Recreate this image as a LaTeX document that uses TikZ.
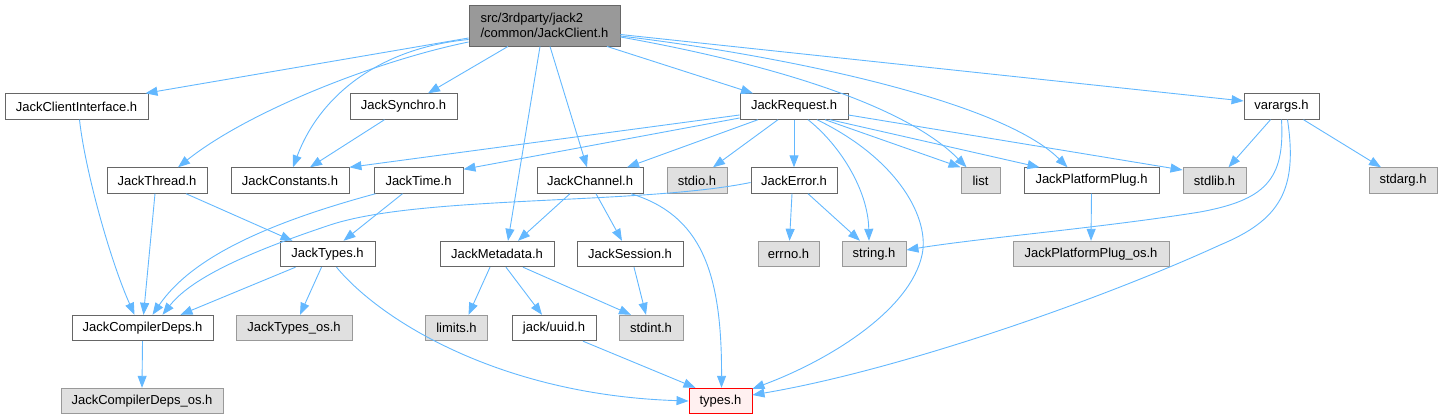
\documentclass[tikz,border=0pt]{standalone}
\usepackage{fontspec}
\setmainfont{Liberation Sans}
\usetikzlibrary{arrows.meta}
\definecolor{edgec}{HTML}{63B8FF}
\definecolor{bdark}{HTML}{666666}
\definecolor{bgray}{HTML}{999999}
\definecolor{fgray}{HTML}{E0E0E0}
\definecolor{fmain}{HTML}{999999}
\definecolor{bred}{HTML}{FF0000}
\definecolor{fred}{HTML}{FFF0F0}
\tikzset{
  box/.style={draw=bdark, fill=white, line width=0.9pt, inner sep=0pt,
    minimum height=25.5pt, font=\fontsize{13}{15}\selectfont, text=black},
  gbox/.style={box, draw=bgray, fill=fgray},
  rbox/.style={box, draw=bred, fill=fred},
  mainbox/.style={box, fill=fmain, minimum height=41pt, align=left},
  ed/.style={draw=edgec, line width=0.9pt, -{Triangle[length=12pt,width=9pt]}},
}
\begin{document}
\begin{tikzpicture}[x=1pt,y=-1pt]
\useasboundingbox (0,0) rectangle (1443,420);
% nodes
\node[mainbox, minimum width=151pt] (main) at (544.5,25.5) {src/3rdparty/jack2\\/common/JackClient.h};
\node[box, minimum width=143pt] (JCI) at (76.5,106.5) {JackClientInterface.h};
\node[box, minimum width=107pt] (JS) at (403.5,106.5) {JackSynchro.h};
\node[box, minimum width=108pt] (JR) at (794,106.5) {JackRequest.h};
\node[box, minimum width=75pt] (va) at (1281.5,106.5) {varargs.h};
\node[box, minimum width=100pt] (JT) at (157,180.5) {JackThread.h};
\node[box, minimum width=118pt] (JCo) at (290,180.5) {JackConstants.h};
\node[box, minimum width=89pt] (JTi) at (418.5,180.5) {JackTime.h};
\node[box, minimum width=106pt] (JCh) at (590,180.5) {JackChannel.h};
\node[gbox, minimum width=60pt] (stdio) at (697,180.5) {stdio.h};
\node[box, minimum width=86pt] (JE) at (794,180.5) {JackError.h};
\node[gbox, minimum width=39pt] (list) at (980.5,180.5) {list};
\node[box, minimum width=135pt] (JPP) at (1091.5,180.5) {JackPlatformPlug.h};
\node[gbox, minimum width=63pt] (stdlib) at (1214.5,180.5) {stdlib.h};
\node[gbox, minimum width=68pt] (stdarg) at (1403,180.5) {stdarg.h};
\node[box, minimum width=95pt] (JTy) at (327.5,254) {JackTypes.h};
\node[box, minimum width=114pt] (JM) at (497,254) {JackMetadata.h};
\node[box, minimum width=106pt] (JSe) at (630,254) {JackSession.h};
\node[gbox, minimum width=61pt] (errno) at (788.5,254) {errno.h};
\node[gbox, minimum width=64pt] (string) at (874,254) {string.h};
\node[gbox, minimum width=156pt] (JPPos) at (1091,254) {JackPlatformPlug\_os.h};
\node[box, minimum width=141pt] (JCD) at (142.5,328) {JackCompilerDeps.h};
\node[gbox, minimum width=116pt] (JTyos) at (294,328) {JackTypes\_os.h};
\node[gbox, minimum width=62pt] (limits) at (456.5,328) {limits.h};
\node[box, minimum width=84pt] (uuid) at (554,328) {jack/uuid.h};
\node[gbox, minimum width=64pt] (stdint) at (651,328) {stdint.h};
\node[gbox, minimum width=162pt] (JCDos) at (142,401) {JackCompilerDeps\_os.h};
\node[rbox, minimum width=63pt] (types) at (720.5,401) {types.h};
% edges from main
\draw[ed] ([yshift=-12.5pt]main.west) -- ([xshift=-3pt]JCI.north east);
\draw[ed] ([yshift=-16.5pt]main.west) .. controls (380,60) and (250,110) .. ([xshift=21pt]JT.north);
\draw[ed] ([yshift=-14pt]main.west) .. controls (380,48) and (320,95) .. ([xshift=3pt]JCo.north);
\draw[ed] ([xshift=-36.5pt]main.south) -- ([xshift=24.5pt]JS.north);
\draw[ed] ([xshift=-4.5pt]main.south) -- ([xshift=11pt]JM.north);
\draw[ed] ([xshift=5.5pt]main.south) -- ([xshift=-3pt]JCh.north);
\draw[ed] ([xshift=62.5pt]main.south) -- ([xshift=-41pt]JR.north);
\draw[ed] ([yshift=-11.5pt]main.east) .. controls (750,60) and (900,100) .. ([xshift=6pt]list.north west);
\draw[ed] ([yshift=-10.5pt]main.east) .. controls (780,55) and (1000,100) .. ([xshift=-24pt]JPP.north);
\draw[ed] ([yshift=-9pt]main.east) -- ([yshift=5.5pt]va.west);
% JackClientInterface
\draw[ed] ([xshift=3pt]JCI.south) .. controls (85,170) and (110,260) .. ([xshift=-8pt]JCD.north);
% JackSynchro
\draw[ed] ([xshift=-19pt]JS.south) -- ([xshift=20pt]JCo.north);
% JackThread
\draw[ed] ([xshift=-2pt]JT.south) -- ([xshift=1pt]JCD.north);
\draw[ed] ([xshift=29pt]JT.south) -- ([xshift=-35pt]JTy.north);
% JackTime
\draw[ed] ([xshift=2pt]JTi.south west) .. controls (260,225) and (190,260) .. ([xshift=10pt]JCD.north);
\draw[ed] ([xshift=-16pt]JTi.south) -- ([xshift=16pt]JTy.north);
% JackTypes
\draw[ed] ([xshift=-32pt]JTy.south) -- ([xshift=38pt]JCD.north);
\draw[ed] ([xshift=-6pt]JTy.south) -- ([xshift=6pt]JTyos.north);
\draw[ed] ([xshift=9pt]JTy.south) .. controls (380,320) and (500,395) .. (types.west);
% JackRequest
\draw[ed] ([yshift=-8.5pt]JR.west) -- (JCo.north east);
\draw[ed] ([yshift=-11.5pt]JR.west) -- ([yshift=-2pt]JTi.north east);
\draw[ed] ([xshift=-36pt]JR.south) -- ([xshift=37pt]JCh.north);
\draw[ed] ([xshift=-16pt]JR.south) -- ([xshift=16pt]stdio.north);
\draw[ed] (JR.south) -- (JE.north);
\draw[ed] ([xshift=14pt]JR.south) .. controls (840,145) and (868,190) .. ([xshift=-5pt]string.north);
\draw[ed] ([xshift=23pt]JR.south) .. controls (900,160) and (930,220) .. (922,255)
   .. controls (910,310) and (830,360) .. ([yshift=-1pt]types.north east);
\draw[ed] ([xshift=31pt]JR.south) -- (list.north west);
\draw[ed] ([xshift=36pt]JR.south) -- ([xshift=-52pt]JPP.north);
\draw[ed] ([yshift=-8.5pt]JR.east) -- ([yshift=10.5pt]stdlib.west);
% JackChannel
\draw[ed] ([xshift=-20pt]JCh.south) -- ([xshift=21pt]JM.north);
\draw[ed] ([xshift=6pt]JCh.south) -- ([xshift=-8pt]JSe.north);
\draw[ed] ([xshift=41pt]JCh.south) .. controls (700,215) and (722,270) .. ([xshift=1pt]types.north);
% JackError
\draw[ed] ([yshift=-2pt]JE.west) .. controls (640,205) and (420,195) .. (330,225)
   .. controls (240,255) and (190,280) .. ([xshift=20pt]JCD.north);
\draw[ed] ([xshift=-2pt]JE.south) -- ([xshift=1pt]errno.north);
\draw[ed] ([xshift=14pt]JE.south) -- ([xshift=-14pt]string.north);
% JackPlatformPlug
\draw[ed] (JPP.south) -- (JPPos.north);
% varargs
\draw[ed] ([xshift=-11pt]va.south) -- ([xshift=14pt]stdlib.north);
\draw[ed] ([xshift=22pt]va.south) -- ([xshift=-22pt]stdarg.north);
\draw[ed] (va.south) .. controls (1285,180) and (1265,200) .. (1200,212)
   .. controls (1100,228) and (980,238) .. ([yshift=4pt]string.east);
\draw[ed] ([xshift=6pt]va.south) .. controls (1298,190) and (1280,220) .. (1220,245)
   .. controls (1100,300) and (900,370) .. ([yshift=6pt]types.east);
% JackMetadata
\draw[ed] ([xshift=-7pt]JM.south) -- ([xshift=12pt]limits.north);
\draw[ed] ([xshift=9pt]JM.south) -- ([xshift=-12pt]uuid.north);
\draw[ed] ([xshift=26pt]JM.south) -- ([xshift=-20pt]stdint.north);
% JackSession
\draw[ed] ([xshift=4pt]JSe.south) -- ([xshift=-5pt]stdint.north);
% uuid
\draw[ed] ([xshift=29pt]uuid.south) -- ([xshift=-25pt]types.north);
% JackCompilerDeps
\draw[ed] (JCD.south) -- (JCDos.north);
\end{tikzpicture}
\end{document}
